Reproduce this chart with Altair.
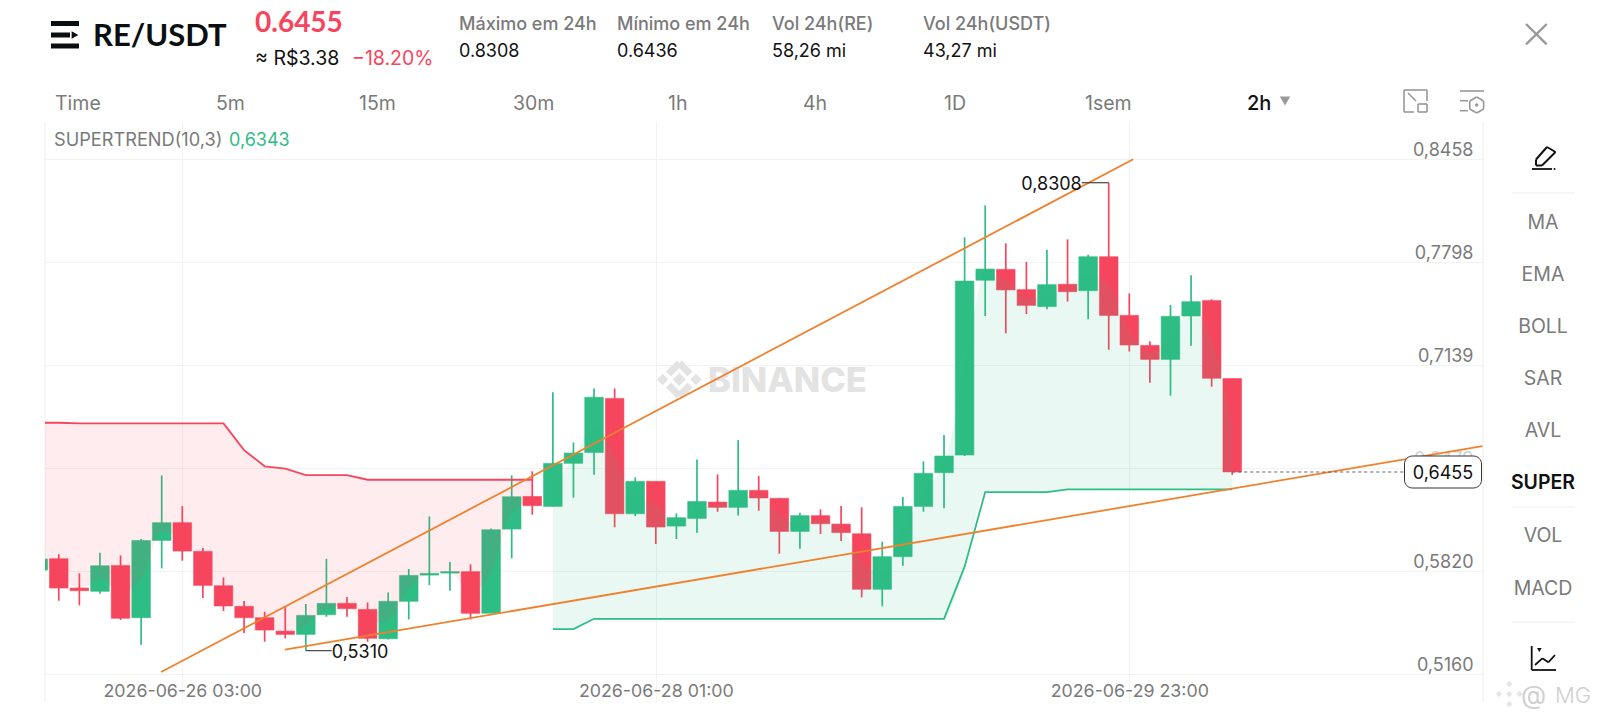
import altair as alt
import pandas as pd

# ---- chart values -------------------------------------------------------
index = list(range(59))
opens = [0.5826,0.5899,0.5711,0.5690,0.5856,0.5521,0.6016,0.6130,0.5946,0.5726,
         0.5594,0.5521,0.5435,0.5414,0.5540,0.5613,0.5574,0.5386,0.5626,0.5794,
         0.5807,0.5816,0.5549,0.6089,0.6298,0.6234,0.6510,0.6580,0.6926,0.6187,
         0.6395,0.6108,0.6157,0.6262,0.6228,0.6337,0.6286,0.6074,0.6175,0.6121,
         0.6059,0.5703,0.5912,0.6234,0.6450,0.6563,0.7683,0.7753,0.7623,0.7514,
         0.7657,0.7616,0.7834,0.7458,0.7266,0.7176,0.7454,0.7554,0.7053]
closes = [0.5897,0.5711,0.5694,0.5854,0.5517,0.6016,0.6130,0.5948,0.5728,0.5596,
          0.5521,0.5442,0.5414,0.5536,0.5613,0.5579,0.5389,0.5626,0.5792,0.5805,
          0.5816,0.5549,0.6085,0.6296,0.6239,0.6510,0.6576,0.6933,0.6187,0.6395,
          0.6102,0.6162,0.6266,0.6228,0.6337,0.6288,0.6074,0.6175,0.6123,0.6066,
          0.5703,0.5912,0.6234,0.6446,0.6557,0.7678,0.7755,0.7621,0.7522,0.7655,
          0.7610,0.7834,0.7458,0.7268,0.7176,0.7452,0.7546,0.7055,0.6455]
highs = [0.5897,0.5927,0.5805,0.5937,0.5920,0.6025,0.6433,0.6236,0.5967,0.5779,
         0.5628,0.5559,0.5596,0.5609,0.5899,0.5653,0.5619,0.5683,0.5833,0.6170,
         0.5878,0.5863,0.6093,0.6433,0.6459,0.6965,0.6644,0.6990,0.6990,0.6420,
         0.6395,0.6190,0.6535,0.6439,0.6659,0.6429,0.6286,0.6194,0.6215,0.6236,
         0.6228,0.6008,0.6294,0.6523,0.6692,0.7958,0.8163,0.7920,0.7800,0.7879,
         0.7945,0.7847,0.8308,0.7599,0.7292,0.7525,0.7715,0.7561,0.7053]
lows = [0.5826,0.5630,0.5600,0.5675,0.5506,0.5348,0.5837,0.5886,0.5647,0.5564,
        0.5423,0.5367,0.5389,0.5310,0.5527,0.5527,0.5367,0.5382,0.5510,0.5730,
        0.5694,0.5510,0.5549,0.5901,0.6181,0.6234,0.6290,0.6437,0.6100,0.6172,
        0.5993,0.6025,0.6066,0.6200,0.6175,0.6207,0.5931,0.5963,0.6057,0.6012,
        0.5651,0.5594,0.5854,0.6200,0.6222,0.6557,0.7454,0.7343,0.7467,0.7497,
        0.7546,0.7433,0.7238,0.7226,0.7027,0.6944,0.7264,0.7001,0.6436]
supertrend_down = [0.6770,0.6770,0.6766,0.6766,0.6766,0.6766,0.6766,0.6766,0.6766,0.6766,
                   0.6595,0.6491,0.6476,0.6435,0.6435,0.6435,0.6405,0.6405,0.6405,0.6405,
                   0.6405,0.6405,0.6405,0.6405,0.6405]
supertrend_up = [0.5448,0.5448,0.5514,0.5514,0.5514,0.5514,0.5514,0.5514,0.5514,0.5514,
                 0.5514,0.5514,0.5514,0.5514,0.5514,0.5514,0.5514,0.5514,0.5514,0.5514,
                 0.5848,0.6326,0.6326,0.6326,0.6326,0.6343,0.6343,0.6343,0.6343,0.6343,
                 0.6343,0.6343,0.6343,0.6343]
trend_a_x = [5.97, 53.19]
trend_a_y = [0.5173, 0.8458]
trend_b_x = [11.99, 70.15]
trend_b_y = [0.5316, 0.6621]
y_ticks = [0.8458, 0.7798, 0.7139, 0.6479, 0.5820, 0.5160]
x_ticks = [7, 30, 53]
x_tick_labels = ["2026-06-26 03:00", "2026-06-28 01:00", "2026-06-29 23:00"]
last_price = 0.6455
low_point = (13, 0.5310)
high_point = (52, 0.8308)

UP, DOWN = "#2EBD85", "#F6465D"
ORANGE = "#F0812D"
GRID = "#F2F2F2"
GRAY = "#7A7A7A"
FONT = "Inter"
BIG = "Lato"

df = pd.DataFrame({"i": index, "open": opens, "close": closes, "high": highs, "low": lows})
df["dir"] = ["up" if c >= o else "down" for o, c in zip(opens, closes)]
df["mid"] = (df["open"] + df["close"]) / 2
down = df.iloc[:25].assign(st=supertrend_down)
up = df.iloc[25:].assign(st=supertrend_up)

x_scale = alt.Scale(domain=[0.331, 70.18], nice=False, zero=False, padding=0)
y_scale = alt.Scale(domain=[0.4981, 0.8697], nice=False, zero=False, padding=0)
color_scale = alt.Scale(domain=["up", "down"], range=[UP, DOWN])
label_map = "{" + ",".join(f"{k}:'{v}'" for k, v in zip(x_ticks, x_tick_labels)) + "}"

x_axis = alt.Axis(
    orient="bottom", values=x_ticks, labelExpr=label_map + "[datum.value]",
    grid=True, gridColor=GRID, gridWidth=1, domain=False, ticks=False,
    labelPadding=-20, labelFont=FONT, labelFontSize=17.8, labelColor=GRAY,
    labelOverlap=False, labelFlush=False, labelBound=False, title=None)
y_axis = alt.Axis(
    orient="right", values=y_ticks,
    labelExpr="replace(format(datum.value,'.4f'),'.',',')",
    grid=True, gridColor=GRID, gridWidth=1, domain=False, ticks=False,
    labelPadding=-10, labelAlign="right", labelBaseline="bottom",
    labelFont=FONT, labelFontSize=18,
    labelColor={"condition": {"test": "datum.value==0.6479", "value": "#D2D2D2"}, "value": GRAY},
    labelOverlap=False, labelFlush=False, labelBound=False, title=None)
X = alt.X("i:Q", scale=x_scale, axis=x_axis)


def Y(field):
    return alt.Y(field, scale=y_scale, axis=y_axis)


OX, OY = 45, 122  # page position of the plot area


def ui_text(s, x, y, size, color=GRAY, weight=400, align="left", font=FONT):
    return alt.Chart(pd.DataFrame({"t": [s]})).mark_text(
        font=font, fontSize=size, fontWeight=weight, color=color, align=align, baseline="middle"
    ).encode(x=alt.value(x - OX), y=alt.value(y - OY), text="t:N")


def seg(x1, y1, x2, y2, color="#999999", width=1.6):
    return alt.Chart(pd.DataFrame({"a": [0]})).mark_rule(color=color, strokeWidth=width).encode(
        x=alt.value(x1 - OX), y=alt.value(y1 - OY), x2=alt.value(x2 - OX), y2=alt.value(y2 - OY)
    )


def poly(pts, color="#999999", width=1.6):
    return [seg(*a, *b, color, width) for a, b in zip(pts, pts[1:])]


def sym(x, y, shape, size, color, filled=True):
    return alt.Chart(pd.DataFrame({"a": [0]})).mark_point(
        shape=shape, size=size, filled=filled, color=color, opacity=1
    ).encode(x=alt.value(x - OX), y=alt.value(y - OY))


layers = []

# plot-area side rules
layers += [seg(45, 122, 45, 702, "#EEEEEE", 1), seg(1483, 122, 1483, 702, "#EEEEEE", 1)]

# watermark
WM = "#E3E3E3"
layers += [sym(679.3, 379.5, "diamond", 170, WM), sym(662.7, 379.5, "diamond", 130, WM), sym(696, 379.5, "diamond", 130, WM)]
layers += poly([(668.5, 374), (679.3, 363), (690, 374)], WM, 7)
layers += poly([(668.5, 385), (679.3, 396), (690, 385)], WM, 7)
layers.append(ui_text("BINANCE", 708, 382, 34.5, WM, 800))

# candles
layers.append(alt.Chart(df).mark_rule(strokeWidth=1.7, clip=True).encode(
    x=X, y=Y("low:Q"), y2="high:Q",
    color=alt.Color("dir:N", scale=color_scale, legend=None)))
layers.append(alt.Chart(df).mark_bar(size=18.6, strokeWidth=1, strokeOpacity=0.55, clip=True).encode(
    x=X, y=Y("open:Q"), y2="close:Q",
    color=alt.Color("dir:N", scale=color_scale, legend=None),
    stroke=alt.Stroke("dir:N", scale=color_scale, legend=None)))

# supertrend bands
for frame, colour in ((down, DOWN), (up, UP)):
    layers.append(alt.Chart(frame).mark_area(color=colour, opacity=0.1, interpolate="monotone", clip=True).encode(
        x=X, y=Y("mid:Q"), y2="st:Q"))
    layers.append(alt.Chart(frame).mark_line(color=colour, strokeWidth=1.8, clip=True).encode(
        x=X, y=Y("st:Q")))

# trend lines
for tx, ty in ((trend_a_x, trend_a_y), (trend_b_x, trend_b_y)):
    layers.append(alt.Chart(pd.DataFrame({"i": tx, "p": ty})).mark_line(color=ORANGE, strokeWidth=1.8, clip=True).encode(
        x=X, y=Y("p:Q")))

# extreme labels
LEAD = "#444444"
fmt = lambda v: f"{v:.4f}".replace(".", ",")
low_end, high_end = 14.26, 50.69
layers.append(alt.Chart(pd.DataFrame({"i": [low_point[0]], "i2": [low_end], "p": [low_point[1]]})).mark_rule(color=LEAD, strokeWidth=1.2).encode(
    x=X, x2="i2:Q", y=Y("p:Q")))
layers.append(alt.Chart(pd.DataFrame({"i": [high_point[0]], "i2": [high_end], "p": [high_point[1]]})).mark_rule(color=LEAD, strokeWidth=1.2).encode(
    x=X, x2="i2:Q", y=Y("p:Q")))
layers.append(alt.Chart(pd.DataFrame({"i": [low_end], "p": [low_point[1]], "t": [fmt(low_point[1])]})).mark_text(
    font=FONT, fontSize=18, color="#111111", align="left", baseline="middle", dy=2).encode(
    x=X, y=Y("p:Q"), text="t:N"))
layers.append(alt.Chart(pd.DataFrame({"i": [high_end], "p": [high_point[1]], "t": [fmt(high_point[1])]})).mark_text(
    font=FONT, fontSize=18, color="#111111", align="right", baseline="middle", dy=2).encode(
    x=X, y=Y("p:Q"), text="t:N"))

# last price line + tag
layers.append(alt.Chart(pd.DataFrame({"i": [58], "i2": [66.36], "p": [last_price]})).mark_rule(
    color="#666666", strokeWidth=1.1, strokeDash=[3, 3]).encode(
    x=X, x2="i2:Q", y=Y("p:Q")))
layers.append(alt.Chart(pd.DataFrame({"a": [0]})).mark_rect(
    fill="white", stroke="#333333", strokeWidth=1, cornerRadius=8).encode(
    x=alt.value(1404.5 - OX), x2=alt.value(1481.5 - OX), y=alt.value(456 - OY), y2=alt.value(488 - OY)))
layers.append(ui_text(fmt(last_price), 1443, 474, 18, "#111111", 400, "center"))

# header
layers += [seg(51, 23.5, 79, 23.5, "#0B0E11", 5), seg(51, 35, 70, 35, "#0B0E11", 5), seg(51, 46, 79, 46, "#0B0E11", 5)]
layers.append(sym(75, 35, "triangle-right", 60, "#0B0E11"))
layers.append(ui_text("RE/USDT", 93, 37, 31, "#0B0E11", 700, "left", BIG))
layers.append(ui_text("0.6455", 255, 24, 28, DOWN, 700, "left", BIG))
layers.append(ui_text("≈ R$3.38", 255, 59, 19.5, "#111111"))
layers.append(ui_text("−18.20%", 352, 59, 19.5, DOWN))
for x, a, b in ((459, "Máximo em 24h", "0.8308"), (617, "Mínimo em 24h", "0.6436"),
                (772, "Vol 24h(RE)", "58,26 mi"), (923, "Vol 24h(USDT)", "43,27 mi")):
    layers.append(ui_text(a, x, 24.5, 18, GRAY, 500))
    layers.append(ui_text(b, x, 52, 18, "#111111"))
for x, s in ((55, "Time"), (216, "5m"), (359, "15m"), (513, "30m"), (668, "1h"), (803, "4h"), (944, "1D"), (1085, "1sem")):
    layers.append(ui_text(s, x, 104, 19.5, GRAY))
layers.append(ui_text("2h", 1247, 104, 20, "#111111", 500))
layers.append(sym(1285, 101, "triangle-down", 110, "#999999"))
layers.append(ui_text("SUPERTREND(10,3)", 54, 141, 18.2, GRAY))
layers.append(ui_text("0,6343", 229, 141, 18, UP))

# toolbar icons
layers += poly([(1414, 112), (1404, 112), (1404, 90), (1427, 90), (1427, 101)])
layers += poly([(1418, 104), (1427, 104), (1427, 112), (1418, 112), (1418, 104)])
layers.append(seg(1408, 93, 1416, 101))
layers += [seg(1460, 91, 1484, 91), seg(1460, 100.7, 1468, 100.7), seg(1460, 110.7, 1468, 110.7)]
layers += poly([(1476.7, 97), (1483.6, 101), (1483.6, 109), (1476.7, 113), (1469.8, 109), (1469.8, 101), (1476.7, 97)])
layers.append(sym(1476.7, 105, "circle", 12, "#999999"))
layers += poly([(1526, 24), (1546.7, 44.3)], "#999999", 2.4) + poly([(1546.7, 24), (1526, 44.3)], "#999999", 2.4)

# right panel
layers += poly([(1547, 147), (1555.5, 152), (1542, 165.5), (1536, 165.5), (1536, 159.5), (1547, 147)], "#111111", 2)
layers.append(seg(1532, 169, 1552, 169, "#111111", 1.8))
layers.append(sym(1554.5, 169, "circle", 4, "#111111"))
layers += [seg(1512, 193, 1575, 193, "#EEEEEE", 1), seg(1512, 507, 1575, 507, "#EEEEEE", 1), seg(1512, 622, 1575, 622, "#EEEEEE", 1)]
for y, s in ((222.5, "MA"), (274.5, "EMA"), (326.5, "BOLL"), (378.5, "SAR"), (430.5, "AVL"), (535.5, "VOL"), (588.5, "MACD")):
    layers.append(ui_text(s, 1543, y, 19.5, GRAY, 400, "center"))
layers.append(ui_text("SUPER", 1543, 482.5, 19.5, "#111111", 600, "center"))
layers += poly([(1531.7, 646), (1531.7, 670), (1556, 670)], "#111111", 1.8)
layers += poly([(1535, 665), (1542.3, 658.3), (1548.3, 662.3), (1555, 655)], "#111111", 1.8)
layers.append(sym(1539.3, 650, "triangle-down", 22, "#111111"))

# corner watermark
layers += [sym(1509.3, 684, "diamond", 40, "#E6E6E6"), sym(1509.3, 694, "diamond", 40, "#E6E6E6"),
           sym(1509.3, 704, "diamond", 40, "#E6E6E6"), sym(1499, 694, "diamond", 40, "#E6E6E6"), sym(1519.6, 694, "diamond", 40, "#E6E6E6")]
layers.append(ui_text("@", 1521, 696, 26, "#D0D0D0"))
layers.append(ui_text("MG", 1555, 696, 22, "#D0D0D0", 300))

chart = alt.layer(*layers).properties(
    width=1438, height=580,
    padding={"left": 37, "top": 114, "right": 109, "bottom": 10},
    autosize=alt.AutoSizeParams(type="none"),
    background="white",
).configure_view(stroke=None)

chart.save("out.html", embed_options={"renderer": "svg", "actions": False})
